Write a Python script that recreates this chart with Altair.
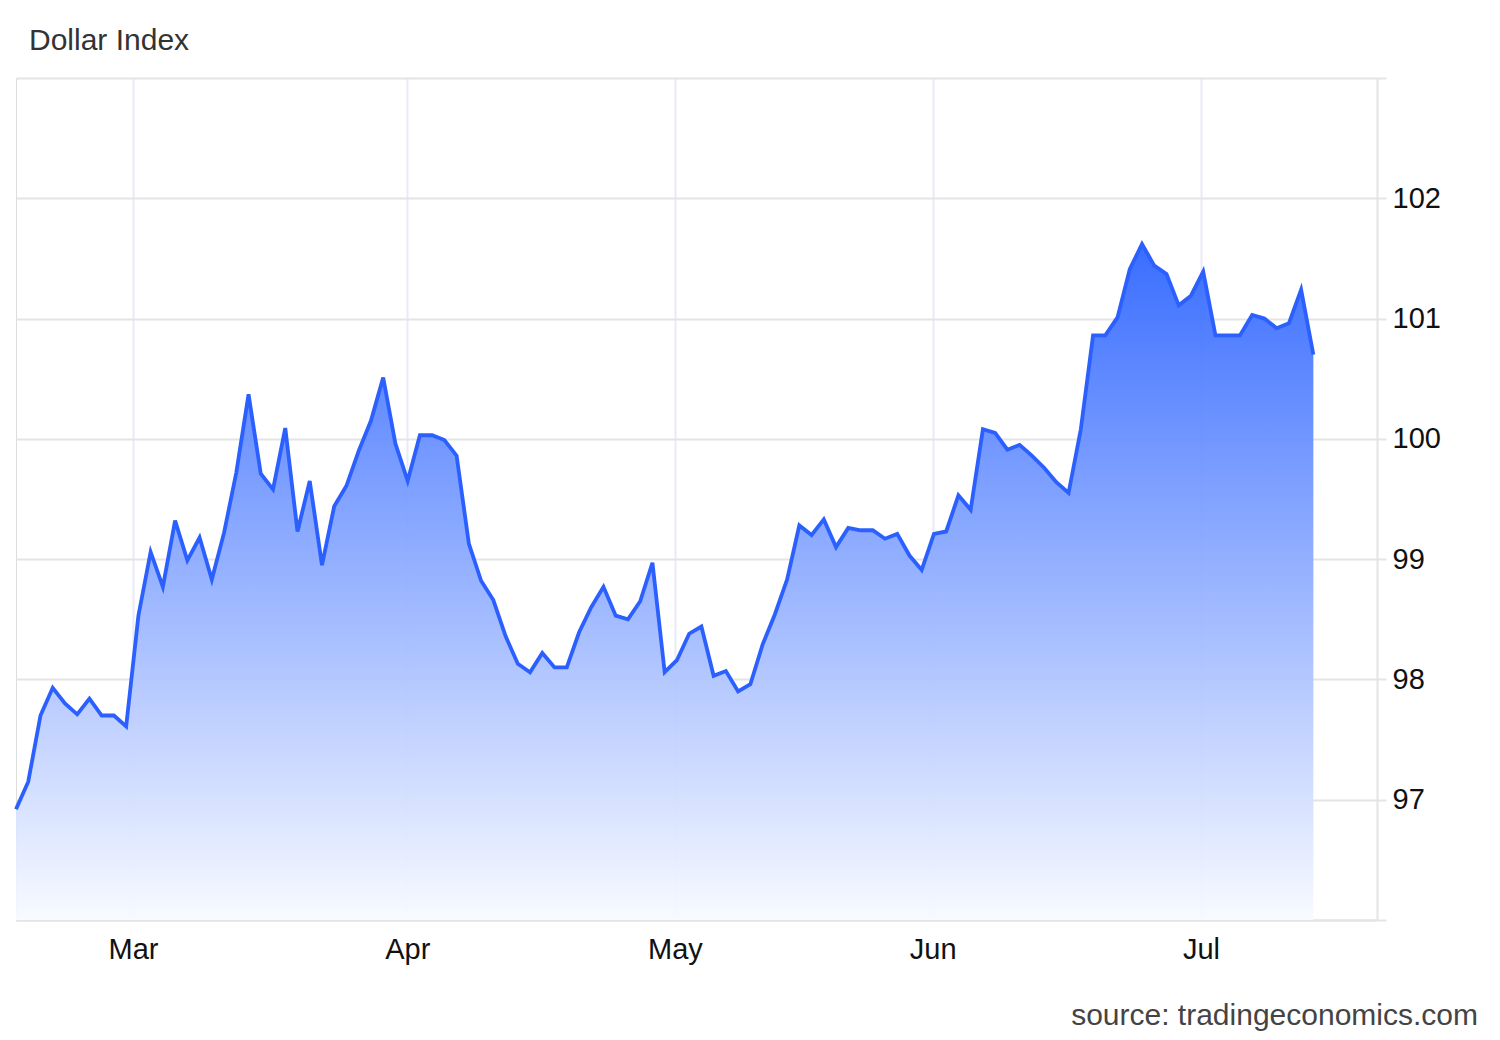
import json
import altair as alt
import pandas as pd

# ---- data ----
title_text = "Dollar Index"
source_text = "source: tradingeconomics.com"

values = [
    96.92, 97.15, 97.70, 97.93, 97.80, 97.71, 97.84, 97.70, 97.70, 97.61,
    98.53, 99.06, 98.77, 99.32, 98.99, 99.18, 98.83, 99.22, 99.72, 100.37,
    99.71, 99.58, 100.09, 99.23, 99.65, 98.95, 99.44, 99.61, 99.90, 100.15,
    100.51, 99.96, 99.65, 100.03, 100.03, 99.99, 99.86, 99.13, 98.82, 98.66,
    98.36, 98.13, 98.06, 98.22, 98.10, 98.10, 98.39, 98.60, 98.77, 98.53,
    98.50, 98.65, 98.97, 98.06, 98.16, 98.38, 98.44, 98.03, 98.07, 97.90,
    97.96, 98.29, 98.54, 98.83, 99.28, 99.20, 99.33, 99.10, 99.26, 99.24,
    99.24, 99.17, 99.21, 99.03, 98.91, 99.21, 99.23, 99.53, 99.41, 100.08,
    100.05, 99.91, 99.95, 99.86, 99.76, 99.64, 99.55, 100.08, 100.86, 100.86,
    101.01, 101.41, 101.62, 101.44, 101.37, 101.11, 101.19, 101.39, 100.86, 100.86,
    100.86, 101.03, 101.00, 100.92, 100.96, 101.24, 100.70,
]
month_labels = ["Mar", "Apr", "May", "Jun", "Jul"]
month_positions = [9.56, 31.97, 53.84, 74.90, 96.82]
y_ticks = [96, 97, 98, 99, 100, 101, 102, 103]
y_labels = ["", "97", "98", "99", "100", "101", "102", ""]
y_min, y_max = 96, 103
x_max = 111.2

df = pd.DataFrame({"i": list(range(len(values))), "v": values})

FONT = "Liberation Sans"
W, H = 1361, 842
LINE = "#2b60ff"
GRID = "#e4e4e4"

x_label_expr = f"{json.dumps(month_labels)}[indexof({json.dumps(month_positions)}, datum.value)]"
y_label_expr = f"{json.dumps(y_labels)}[indexof({json.dumps(y_ticks)}, datum.value)]"

x_enc = alt.X(
    "i:Q",
    scale=alt.Scale(domain=[0, x_max], nice=False, zero=False),
    axis=alt.Axis(
        values=month_positions, labelExpr=x_label_expr, title=None,
        grid=True, gridColor="#e8ebf7", gridWidth=2,
        domain=True, domainColor=GRID, domainWidth=2,
        ticks=False, labelPadding=15, labelFontSize=29, labelFont=FONT,
        labelColor="#111111", labelFlush=False, labelOverlap=False,
    ),
)
y_enc = alt.Y(
    "v:Q",
    scale=alt.Scale(domain=[y_min, y_max], nice=False, zero=False),
    axis=alt.Axis(
        orient="right", values=y_ticks, labelExpr=y_label_expr, title=None,
        grid=True, gridColor=GRID, gridWidth=2,
        domain=True, domainColor=GRID, domainWidth=2,
        ticks=True, tickSize=9, tickColor=GRID, tickWidth=2,
        labelPadding=6, labelFontSize=29, labelFont=FONT, labelColor="#111111",
        labelBaseline="middle", labelFlush=False, labelOverlap=False,
    ),
)

base = alt.Chart(df).encode(x=x_enc, y=y_enc)

area = base.mark_area(
    color=alt.Gradient(
        gradient="linear",
        stops=[
            alt.GradientStop(color="#f8faff", offset=0),
            alt.GradientStop(color="#2f66ff", offset=1),
        ],
        x1=1, x2=1, y1=1, y2=0,
    ),
    opacity=0.95,
).encode(y2=alt.datum(y_min))
line = base.mark_line(color=LINE, strokeWidth=3.8)

title_mark = alt.Chart(alt.Data(values=[{"t": title_text}])).mark_text(
    align="left", baseline="alphabetic", fontSize=30, font=FONT, color="#333333"
).encode(x=alt.value(13), y=alt.value(-28), text="t:N")

src = alt.Chart(alt.Data(values=[{"t": source_text}])).mark_text(
    align="right", baseline="alphabetic", fontSize=30, font=FONT, color="#444444"
).encode(x=alt.value(1462), y=alt.value(947), text="t:N")

chart = alt.layer(area, line, title_mark, src).properties(
    width=W,
    height=H,
    autosize=alt.AutoSizeParams(type="none"),
    padding={"left": 8, "top": 70, "right": 115, "bottom": 112},
).configure_view(stroke=None).configure(background="white")

chart.save("out.html", embed_options={"renderer": "svg", "actions": False})
